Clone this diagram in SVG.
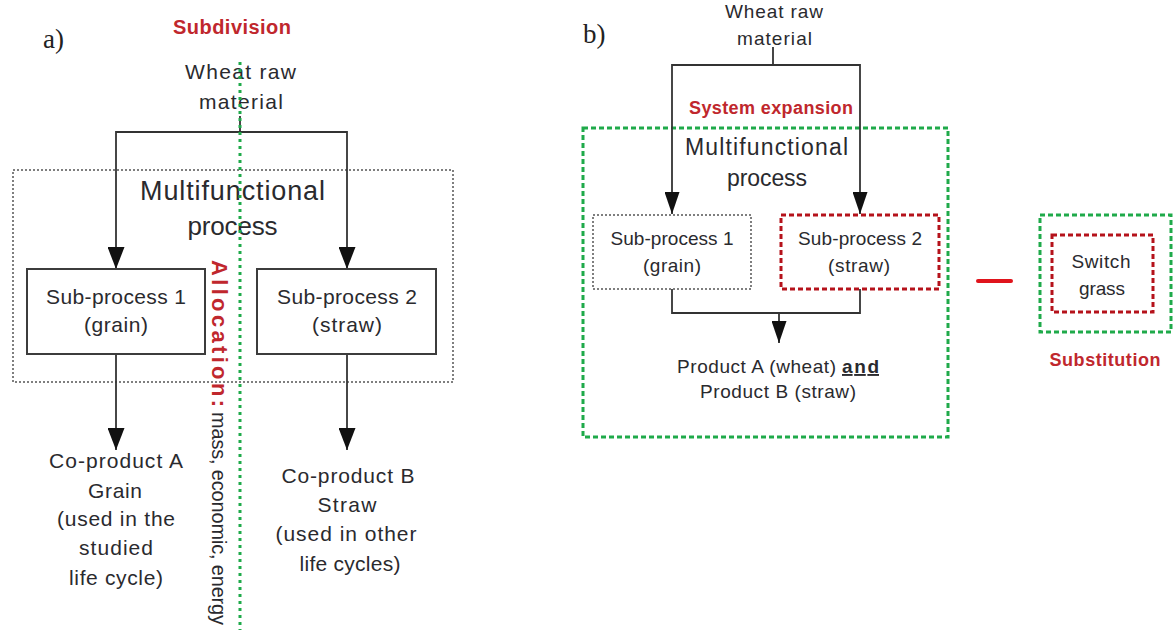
<svg xmlns="http://www.w3.org/2000/svg" width="1174" height="630" viewBox="0 0 1174 630">
<style>
text{font-family:"Liberation Sans",Arial,sans-serif;fill:#2a2a2e;text-anchor:middle}
.lbl{font-family:"Liberation Serif","Times New Roman",serif;text-anchor:start;fill:#222}
.red{fill:#c0272d;font-weight:bold}
.a{font-size:21px}
.b{font-size:19px}
.box{fill:#fff;stroke:#3c3c3c;stroke-width:2}
.dotbox{fill:none;stroke:#555;stroke-width:1.5;stroke-dasharray:2 2}
.grn{fill:none;stroke:#1faa4a;stroke-width:3;stroke-dasharray:5 3}
.rdash{fill:none;stroke:#b5121b;stroke-width:3;stroke-dasharray:5 3}
.con{fill:none;stroke:#333;stroke-width:1.8}
</style>
<defs>
<marker id="arrA" markerUnits="userSpaceOnUse" viewBox="0 0 22 17" markerWidth="22" markerHeight="17" refX="22" refY="8.5" orient="auto"><path d="M0,0 L22,8.5 L0,17 z" fill="#111"/></marker>
<marker id="arrB" markerUnits="userSpaceOnUse" viewBox="0 0 22 15" markerWidth="22" markerHeight="15" refX="22" refY="7.5" orient="auto"><path d="M0,0 L22,7.5 L0,15 z" fill="#111"/></marker>
</defs>
<rect width="1174" height="630" fill="#fff"/>

<!-- Part a -->
<text class="lbl" x="43" y="48" font-size="27">a)</text>
<text class="red" x="232" y="34" font-size="20" textLength="118" lengthAdjust="spacing">Subdivision</text>
<g id="a-multifunctional">
<rect class="dotbox" x="13" y="170" width="440" height="212"/>
<text x="232.5" y="200" font-size="27" textLength="185" lengthAdjust="spacing">Multifunctional</text>
<text x="232.5" y="235" font-size="26" textLength="90" lengthAdjust="spacing">process</text>
</g>
<g id="a-wheat">
<text x="240.5" y="79" font-size="21" textLength="111" lengthAdjust="spacing">Wheat raw</text>
<text x="241" y="109" font-size="21" textLength="84" lengthAdjust="spacing">material</text>
</g>
<g id="a-connectors">
<path class="con" d="M240,116 V132 H116 V269" marker-end="url(#arrA)"/>
<path class="con" d="M240,132 H347 V269" marker-end="url(#arrA)"/>
<path class="con" d="M116,354 V450" marker-end="url(#arrA)"/>
<path class="con" d="M347,354 V450" marker-end="url(#arrA)"/>
</g>
<g id="a-sub1">
<rect class="box" x="27" y="269" width="178" height="85"/>
<text class="a" x="116" y="304" textLength="140" lengthAdjust="spacing">Sub-process 1</text>
<text class="a" x="116" y="332" textLength="64" lengthAdjust="spacing">(grain)</text>
</g>
<g id="a-sub2">
<rect class="box" x="257" y="269" width="179" height="85"/>
<text class="a" x="347" y="304" textLength="140" lengthAdjust="spacing">Sub-process 2</text>
<text class="a" x="347" y="332" textLength="70" lengthAdjust="spacing">(straw)</text>
</g>
<g id="a-coproductA">
<text class="a" x="116" y="468" textLength="134" lengthAdjust="spacing">Co-product A</text>
<text class="a" x="115" y="498" textLength="54" lengthAdjust="spacing">Grain</text>
<text class="a" x="116" y="526" textLength="118" lengthAdjust="spacing">(used in the</text>
<text class="a" x="116" y="555" textLength="74" lengthAdjust="spacing">studied</text>
<text class="a" x="116" y="585" textLength="94" lengthAdjust="spacing">life cycle)</text>
</g>
<g id="a-coproductB">
<text class="a" x="348" y="483" textLength="133" lengthAdjust="spacing">Co-product B</text>
<text class="a" x="347" y="512" textLength="59" lengthAdjust="spacing">Straw</text>
<text class="a" x="346" y="541" textLength="141" lengthAdjust="spacing">(used in other</text>
<text class="a" x="350" y="571" textLength="101" lengthAdjust="spacing">life cycles)</text>
</g>
<line x1="240" y1="62" x2="240" y2="630" stroke="#1faa4a" stroke-width="3" stroke-dasharray="3 4"/>
<g id="a-allocation">
<text class="red" transform="translate(212,260) rotate(90)" x="0" y="0" font-size="22" style="text-anchor:start" textLength="147" lengthAdjust="spacing">Allocation:</text>
<text transform="translate(212,412) rotate(90)" x="0" y="0" font-size="20" style="text-anchor:start" textLength="213" lengthAdjust="spacing">mass, economic, energy</text>
</g>

<!-- Part b -->
<text class="lbl" x="583" y="43" font-size="27">b)</text>
<g id="b-wheat">
<text class="b" x="774" y="18" textLength="98" lengthAdjust="spacing">Wheat raw</text>
<text class="b" x="774.5" y="45" textLength="75" lengthAdjust="spacing">material</text>
</g>
<text class="red" x="771" y="114" font-size="18" textLength="164" lengthAdjust="spacing">System expansion</text>
<g id="b-system">
<rect class="grn" x="583" y="128" width="365" height="309"/>
<text x="766.5" y="155" font-size="23" textLength="163" lengthAdjust="spacing">Multifunctional</text>
<text x="767" y="186" font-size="23" textLength="80" lengthAdjust="spacing">process</text>
</g>
<g id="b-sub1">
<rect class="dotbox" x="593" y="215" width="158" height="74"/>
<text class="b" x="672" y="245" textLength="123" lengthAdjust="spacing">Sub-process 1</text>
<text class="b" x="672" y="272" textLength="58" lengthAdjust="spacing">(grain)</text>
</g>
<g id="b-sub2">
<rect class="rdash" x="781" y="215" width="158" height="74"/>
<text class="b" x="860" y="245" textLength="124" lengthAdjust="spacing">Sub-process 2</text>
<text class="b" x="859" y="272" textLength="62" lengthAdjust="spacing">(straw)</text>
</g>
<g id="b-products">
<text class="b" x="677" y="373" style="text-anchor:start" textLength="159" lengthAdjust="spacing">Product A (wheat)</text>
<text class="b" x="842" y="373" style="text-anchor:start;text-decoration:underline" font-weight="bold" textLength="37" lengthAdjust="spacing">and</text>
<text class="b" x="778" y="398" textLength="156" lengthAdjust="spacing">Product B (straw)</text>
</g>
<g id="b-connectors">
<path class="con" d="M773,47 V65 H672 V214" marker-end="url(#arrB)"/>
<path class="con" d="M773,65 H860 V214" marker-end="url(#arrB)"/>
<path class="con" d="M672,289 V313 H860 V289"/>
<path class="con" d="M779,313 V343" marker-end="url(#arrB)"/>
</g>
<line id="minus" x1="978" y1="281" x2="1011" y2="281" stroke="#e0141c" stroke-width="4" stroke-linecap="round"/>
<g id="b-substitution">
<rect class="grn" x="1040" y="215" width="131" height="117"/>
<rect class="rdash" x="1052" y="235" width="101" height="77"/>
<text class="b" x="1101" y="268" textLength="59" lengthAdjust="spacing">Switch</text>
<text class="b" x="1102" y="295" textLength="46" lengthAdjust="spacing">grass</text>
</g>
<text class="red" x="1105" y="366" font-size="18" textLength="111" lengthAdjust="spacing">Substitution</text>
</svg>
